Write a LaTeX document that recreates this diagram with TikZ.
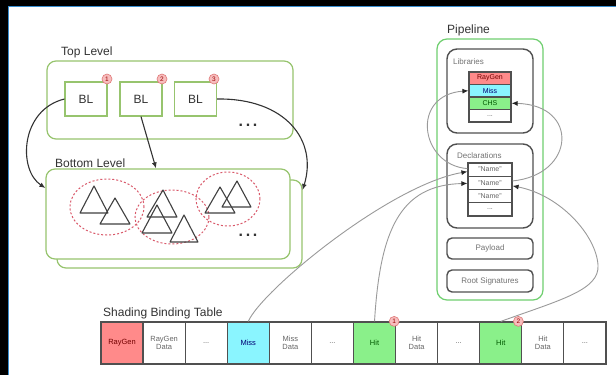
\documentclass[tikz,border=0pt]{standalone}
\usepackage{fontspec}
\setmainfont{Liberation Sans}
\usetikzlibrary{arrows.meta,calc}
\definecolor{tlgreen}{HTML}{97C46E}
\definecolor{plgreen}{HTML}{6FCF6F}
\definecolor{boxgray}{HTML}{505050}
\definecolor{cred}{HTML}{FF8A8A}
\definecolor{ccyan}{HTML}{8AF5FF}
\definecolor{cgreen}{HTML}{8AF08A}
\definecolor{conn}{HTML}{9A9A9A}
\definecolor{numfill}{HTML}{F7BDBD}
\definecolor{numdraw}{HTML}{E07878}
\definecolor{ellred}{HTML}{D9596A}
\definecolor{framebl}{HTML}{3A8FD0}
\begin{document}
\begin{tikzpicture}[x=1pt,y=-1pt,
  tlbox/.style={draw=tlgreen,line width=1.2pt,rounded corners=9pt,fill=white,inner sep=0pt},
  blbox/.style={draw=tlgreen,line width=1.2pt,fill=white,minimum width=42pt,minimum height=34pt,inner sep=0pt,font=\fontsize{12}{12}\selectfont,text=black!80},
  num/.style={circle,draw=numdraw,fill=numfill,line width=0.6pt,minimum size=10pt,inner sep=0pt,font=\fontsize{6.5}{6.5}\selectfont,text=red!60!black},
  grayframe/.style={draw=boxgray,line width=1.4pt,rounded corners=10pt,minimum width=86pt,inner sep=0pt,fill=white},
  grayslot/.style={draw=boxgray,line width=1.4pt,rounded corners=5pt,minimum width=86pt,inner sep=0pt,fill=white,font=\fontsize{8}{8}\selectfont,text=black!55},
  cell/.style={draw=boxgray,line width=1.2pt,minimum width=42pt,minimum height=12.5pt,inner sep=0pt,font=\fontsize{7}{7}\selectfont,text=black!60},
  sbt/.style={draw=boxgray,line width=1.2pt,minimum width=42.08pt,minimum height=42pt,inner sep=0pt,font=\fontsize{7.5}{8.5}\selectfont,text=black!60,align=center},
  lbl/.style={font=\fontsize{12}{12}\selectfont,text=black!80,anchor=base west,inner sep=0pt},
  small/.style={font=\fontsize{8}{8}\selectfont,text=black!55,anchor=base west,inner sep=0pt},
  dots/.style={font=\fontsize{16}{16}\bfseries\selectfont,text=black!80,inner sep=0pt},
  blk/.style={draw=black!80,line width=1.1pt,-{Latex[length=6pt,width=5pt]}},
  gry/.style={draw=conn,line width=0.9pt,-{Latex[length=6pt,width=5pt,color=black!85]}},
  tri/.style={draw=black!75,line width=1.1pt,line join=round},
  ell/.style={draw=ellred,line width=1pt,dash pattern=on 2pt off 2pt}
]
\useasboundingbox (0,0) rectangle (616,375);
\fill[black] (0,0) rectangle (616,375);
\fill[white] (8,6) rectangle (616,375);
\draw[framebl,line width=0.8pt] (8,375) -- (8,6) -- (616,6);

% Top level
\node[lbl] (tltitle) at (61,55) {Top Level};
\node[tlbox,minimum width=246pt,minimum height=78pt] (tl) at (170,100) {};
\node[blbox] (bl1) at (86,99) {BL};
\node[blbox] (bl2) at (141,99) {BL};
\node[blbox] (bl3) at (195.5,99) {BL};
\node[num] (n1c) at (107,79) {1};
\node[num] (n2c) at (162,79) {2};
\node[num] (n3c) at (214,79) {3};
\node[dots] (tldots) at (248,125) {.\hspace{2.6pt}.\hspace{2.6pt}.};

% Bottom level
\node[lbl] (bltitle) at (55,167) {Bottom Level};
\node[tlbox,minimum width=245pt,minimum height=88pt] (bback) at (179.5,224) {};
\node[tlbox,minimum width=244pt,minimum height=90pt] (bfront) at (168,214) {};
\draw[ell] (107,207) ellipse [x radius=37pt,y radius=28pt];
\draw[ell] (172,217) ellipse [x radius=37pt,y radius=27pt];
\draw[ell] (228,199) ellipse [x radius=32pt,y radius=27pt];
\draw[tri] (80,213) -- (94,186) -- (108,213) -- cycle;
\draw[tri] (100,224) -- (115,198) -- (130,224) -- cycle;
\draw[tri] (147,217) -- (163,190) -- (177,217) -- cycle;
\draw[tri] (142,233) -- (157,205) -- (172,233) -- cycle;
\draw[tri] (170,242) -- (184,215) -- (198,242) -- cycle;
\draw[tri] (205,213) -- (220,187) -- (235,213) -- cycle;
\draw[tri] (222,207) -- (237,181) -- (251,207) -- cycle;
\node[dots] (bldots) at (248,235) {.\hspace{2.6pt}.\hspace{2.6pt}.};

% Pipeline
\node[lbl] (pltitle) at (447,33) {Pipeline};
\node[draw=plgreen,line width=1.2pt,rounded corners=10pt,minimum width=106pt,minimum height=261pt,inner sep=0pt] (pl) at (490,169.5) {};
\node[grayframe,minimum height=84pt] (libs) at (490,91) {};
\node[small] (libstitle) at (453,64) {Libraries};
\node[cell,fill=cred,text=red!45!black] (lray) at (490,78.25) {RayGen};
\node[cell,fill=ccyan,text=blue!45!black] (lmiss) at (490,90.75) {Miss};
\node[cell,fill=cgreen,text=green!35!black] (lchs) at (490,103.25) {CHS};
\node[cell,fill=white] (ldots) at (490,115.75) {...};
\node[grayframe,minimum height=84pt] (decl) at (490,186) {};
\node[small] (decltitle) at (457,158) {Declarations};
\node[cell,minimum width=44pt,minimum height=13.25pt] (n1) at (490,169.6) {"Name"};
\node[cell,minimum width=44pt,minimum height=13.25pt] (n2) at (490,182.9) {"Name"};
\node[cell,minimum width=44pt,minimum height=13.25pt] (n3) at (490,196.1) {"Name"};
\node[cell,minimum width=44pt,minimum height=13.25pt] (n4) at (490,209.4) {...};
\node[grayslot,minimum height=21pt] (payload) at (490,248.5) {Payload};
\node[grayslot,minimum height=22pt] (rootsig) at (490,281) {Root Signatures};

% Shading binding table
\node[lbl] (sbttitle) at (103,316) {Shading Binding Table};
\node[sbt,fill=cred,text=red!45!black] (c1) at (122.04,343) {RayGen};
\node[sbt] (c2) at (164.12,343) {RayGen\\Data};
\node[sbt] (c3) at (206.2,343) {...};
\node[sbt,fill=ccyan,text=blue!45!black] (c4) at (248.28,343) {Miss};
\node[sbt] (c5) at (290.36,343) {Miss\\Data};
\node[sbt] (c6) at (332.44,343) {...};
\node[sbt,fill=cgreen,text=green!35!black] (c7) at (374.52,343) {Hit};
\node[sbt] (c8) at (416.6,343) {Hit\\Data};
\node[sbt] (c9) at (458.68,343) {...};
\node[sbt,fill=cgreen,text=green!35!black] (c10) at (500.76,343) {Hit};
\node[sbt] (c11) at (542.84,343) {Hit\\Data};
\node[sbt] (c12) at (584.92,343) {...};
\node[num] (s1c) at ([xshift=-2pt]c7.north east) {1};
\node[num] (s2c) at ([xshift=-4pt]c10.north east) {2};

% black connectors
\draw[blk] (bl1.west) .. controls (20,110) and (18,170) .. ([yshift=26pt]bfront.west);
\draw[blk] (bl2.south) -- ([xshift=-12pt]bfront.north);
\draw[blk] (bl3.east) .. controls (285,98) and (318,140) .. ([yshift=34pt]bback.east);

% gray connectors
\draw[gry] (c4.north) .. controls (262,290) and (390,185) .. ([yshift=-2pt]n1.west);
\draw[gry] (c7.north) .. controls (380,230) and (400,185) .. ([yshift=-0.5pt]n2.west);
\draw[gry] (c10.north) .. controls (560,300) and (600,290) .. (598,265) .. controls (596,235) and (560,195) .. ([yshift=-3pt]n2.east);
\draw[gry] ([yshift=1pt]n1.west) .. controls (420,165) and (410,95) .. (lmiss.west);
\draw[gry] ([yshift=2pt]n2.east) .. controls (575,175) and (580,105) .. (lchs.east);
\end{tikzpicture}
\end{document}
